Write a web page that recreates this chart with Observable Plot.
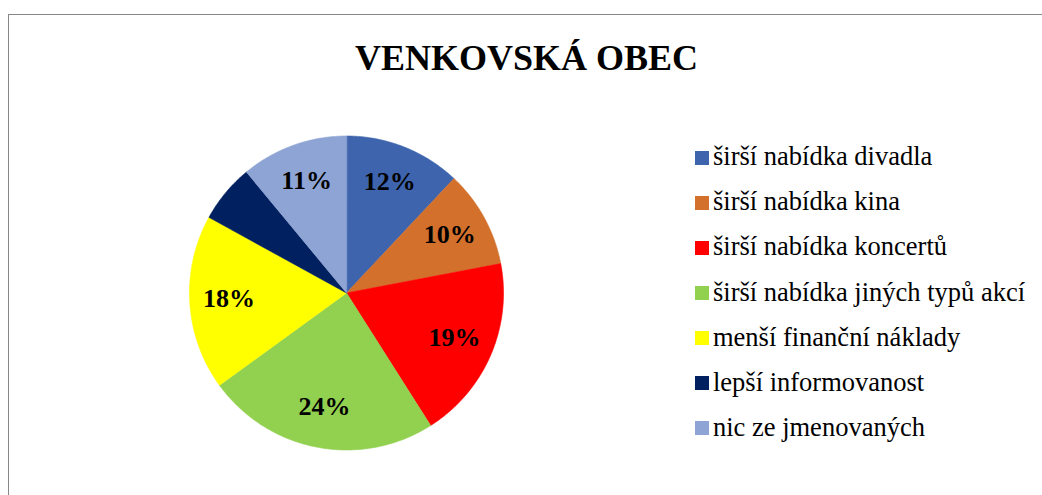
<!DOCTYPE html>
<html>
<head>
<meta charset="utf-8">
<script src="https://cdn.jsdelivr.net/npm/d3@7"></script>
<script src="https://cdn.jsdelivr.net/npm/@observablehq/plot@0.6"></script>
<style>
  html, body { margin: 0; padding: 0; background: #fff; }
  #wrap { position: relative; width: 1042px; height: 495px; overflow: hidden; font-family: "Liberation Serif", "Times New Roman", serif; }
  #frame { position: absolute; left: 8px; top: 14px; right: -10px; bottom: -10px; border-top: 1.5px solid #878787; border-left: 1.5px solid #878787; }
  #chart { position: absolute; left: 0; top: 0; }
  #title { position: absolute; left: 0; width: 1053px; top: 40px; text-align: center; font-family: "Liberation Serif", "Times New Roman", serif; font-weight: bold; font-size: 36px; line-height: 1; color: #000; }
  #legend { position: absolute; left: 695px; top: 135px; }
  .row { display: flex; align-items: center; height: 45.1px; }
  .sw { width: 14px; height: 14px; margin-right: 4px; flex: none; }
  .lab { font-family: "Liberation Serif", "Times New Roman", serif; font-weight: normal; font-size: 26.5px; line-height: 1; color: #000; white-space: nowrap; position: relative; top: -1px; }
</style>
</head>
<body>
<div id="wrap">
  <div id="frame"></div>
  <div id="chart"></div>
  <div id="title">VENKOVSKÁ OBEC</div>
  <div id="legend"></div>
</div>
<script>
const categories = [
  "širší nabídka divadla",
  "širší nabídka kina",
  "širší nabídka koncertů",
  "širší nabídka jiných typů akcí",
  "menší finanční náklady",
  "lepší informovanost",
  "nic ze jmenovaných"
];
const values = [12, 10, 19, 24, 18, 6, 11];
const labels = ["12%", "10%", "19%", "24%", "18%", "", "11%"];
const colors = ["#3D64AD", "#D2702C", "#FF0000", "#92D050", "#FFFF00", "#002060", "#8EA4D4"];

const total = d3.sum(values);
const slicePoints = [];
const labelData = [];
let acc = 0;
categories.forEach((cat, i) => {
  const a0 = acc / total * 2 * Math.PI;
  acc += values[i];
  const a1 = acc / total * 2 * Math.PI;
  slicePoints.push({cat, x: 0, y: 0});
  const n = Math.max(2, Math.ceil((a1 - a0) / (Math.PI / 360)));
  for (let k = 0; k <= n; k++) {
    const a = a0 + (a1 - a0) * k / n;
    slicePoints.push({cat, x: Math.sin(a), y: Math.cos(a)});
  }
  if (labels[i]) {
    const am = (a0 + a1) / 2;
    labelData.push({cat, text: labels[i], x: 0.75 * Math.sin(am), y: 0.75 * Math.cos(am)});
  }
});

const cx = 346, cy = 292.5, R = 157;
const chart = Plot.plot({
  width: 1042,
  height: 495,
  margin: 0,
  style: {background: "transparent", overflow: "visible"},
  x: {domain: [-1, 1], range: [cx - R, cx + R], axis: null},
  y: {domain: [-1, 1], range: [cy + R, cy - R], axis: null},
  color: {domain: categories, range: colors},
  marks: [
    Plot.line(slicePoints, {x: "x", y: "y", z: "cat", fill: "cat", stroke: "cat", strokeWidth: 0.6, curve: "linear-closed"}),
    Plot.text(labelData, {x: "x", y: "y", text: "text", dy: -2, fontSize: 26, fontWeight: "bold", fontFamily: "Liberation Serif", fill: "#000"})
  ]
});
document.getElementById("chart").appendChild(chart);

const legend = document.getElementById("legend");
categories.forEach((cat, i) => {
  const row = document.createElement("div");
  row.className = "row";
  const sw = document.createElement("div");
  sw.className = "sw";
  sw.style.background = colors[i];
  const lab = document.createElement("span");
  lab.className = "lab";
  lab.textContent = cat;
  row.appendChild(sw);
  row.appendChild(lab);
  legend.appendChild(row);
});
</script>
</body>
</html>
